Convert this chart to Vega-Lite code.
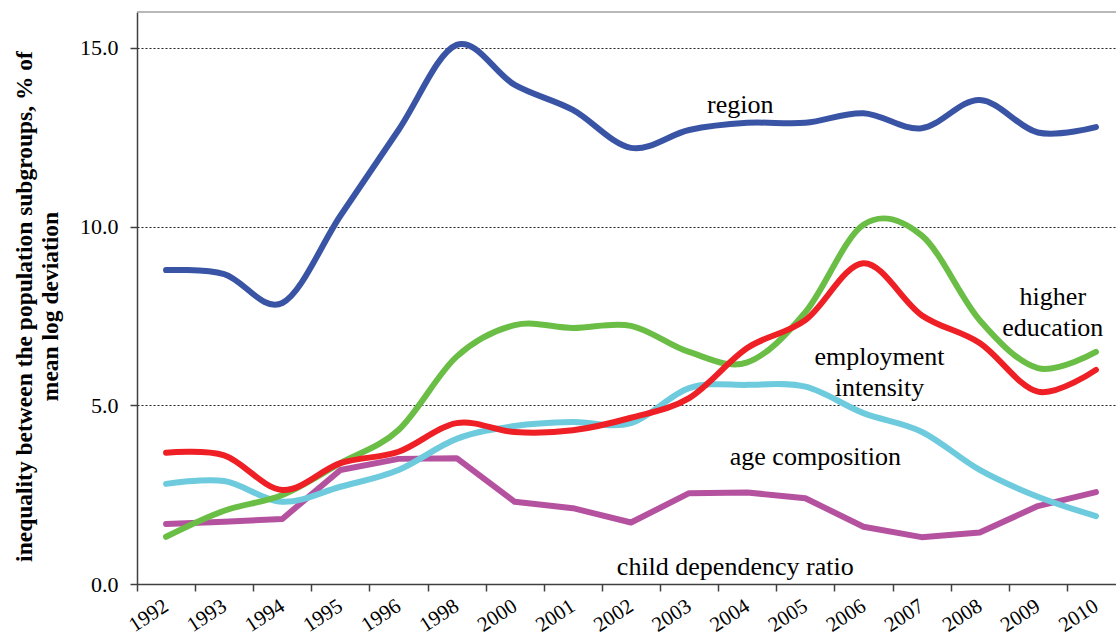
{
  "$schema": "https://vega.github.io/schema/vega-lite/v6.json",
  "width": 979,
  "height": 572,
  "autosize": {"type": "none"},
  "padding": {"left": 137, "top": 12, "right": 0, "bottom": 52},
  "background": "white",
  "config": {"view": {"stroke": null}, "font": "Liberation Serif, Times New Roman, serif"},
  "datasets": {
    "series": [
      {"year": "1992", "series": "child dependency ratio", "value": 1.68},
      {"year": "1993", "series": "child dependency ratio", "value": 1.74},
      {"year": "1994", "series": "child dependency ratio", "value": 1.82},
      {"year": "1995", "series": "child dependency ratio", "value": 3.19},
      {"year": "1996", "series": "child dependency ratio", "value": 3.5},
      {"year": "1998", "series": "child dependency ratio", "value": 3.52},
      {"year": "2000", "series": "child dependency ratio", "value": 2.3},
      {"year": "2001", "series": "child dependency ratio", "value": 2.12},
      {"year": "2002", "series": "child dependency ratio", "value": 1.72},
      {"year": "2003", "series": "child dependency ratio", "value": 2.54},
      {"year": "2004", "series": "child dependency ratio", "value": 2.56},
      {"year": "2005", "series": "child dependency ratio", "value": 2.4},
      {"year": "2006", "series": "child dependency ratio", "value": 1.6},
      {"year": "2007", "series": "child dependency ratio", "value": 1.31},
      {"year": "2008", "series": "child dependency ratio", "value": 1.44},
      {"year": "2009", "series": "child dependency ratio", "value": 2.18},
      {"year": "2010", "series": "child dependency ratio", "value": 2.57},

      {"year": "1992", "series": "region", "value": 8.78},
      {"year": "1993", "series": "region", "value": 8.67},
      {"year": "1994", "series": "region", "value": 7.86},
      {"year": "1995", "series": "region", "value": 10.3},
      {"year": "1996", "series": "region", "value": 12.7},
      {"year": "1998", "series": "region", "value": 15.08},
      {"year": "2000", "series": "region", "value": 13.96},
      {"year": "2001", "series": "region", "value": 13.26},
      {"year": "2002", "series": "region", "value": 12.2},
      {"year": "2003", "series": "region", "value": 12.7},
      {"year": "2004", "series": "region", "value": 12.9},
      {"year": "2005", "series": "region", "value": 12.9},
      {"year": "2006", "series": "region", "value": 13.17},
      {"year": "2007", "series": "region", "value": 12.75},
      {"year": "2008", "series": "region", "value": 13.54},
      {"year": "2009", "series": "region", "value": 12.63},
      {"year": "2010", "series": "region", "value": 12.78},

      {"year": "1992", "series": "age composition", "value": 2.8},
      {"year": "1993", "series": "age composition", "value": 2.88},
      {"year": "1994", "series": "age composition", "value": 2.3},
      {"year": "1995", "series": "age composition", "value": 2.72},
      {"year": "1996", "series": "age composition", "value": 3.19},
      {"year": "1998", "series": "age composition", "value": 4.06},
      {"year": "2000", "series": "age composition", "value": 4.42},
      {"year": "2001", "series": "age composition", "value": 4.53},
      {"year": "2002", "series": "age composition", "value": 4.5},
      {"year": "2003", "series": "age composition", "value": 5.48},
      {"year": "2004", "series": "age composition", "value": 5.57},
      {"year": "2005", "series": "age composition", "value": 5.52},
      {"year": "2006", "series": "age composition", "value": 4.78},
      {"year": "2007", "series": "age composition", "value": 4.26},
      {"year": "2008", "series": "age composition", "value": 3.19},
      {"year": "2009", "series": "age composition", "value": 2.44},
      {"year": "2010", "series": "age composition", "value": 1.9},

      {"year": "1992", "series": "higher education", "value": 1.32},
      {"year": "1993", "series": "higher education", "value": 2.05},
      {"year": "1994", "series": "higher education", "value": 2.49},
      {"year": "1995", "series": "higher education", "value": 3.38},
      {"year": "1996", "series": "higher education", "value": 4.31},
      {"year": "1998", "series": "higher education", "value": 6.36},
      {"year": "2000", "series": "higher education", "value": 7.24},
      {"year": "2001", "series": "higher education", "value": 7.16},
      {"year": "2002", "series": "higher education", "value": 7.22},
      {"year": "2003", "series": "higher education", "value": 6.49},
      {"year": "2004", "series": "higher education", "value": 6.2},
      {"year": "2005", "series": "higher education", "value": 7.6},
      {"year": "2006", "series": "higher education", "value": 10.05},
      {"year": "2007", "series": "higher education", "value": 9.75},
      {"year": "2008", "series": "higher education", "value": 7.38},
      {"year": "2009", "series": "higher education", "value": 6.04},
      {"year": "2010", "series": "higher education", "value": 6.49},

      {"year": "1992", "series": "employment intensity", "value": 3.67},
      {"year": "1993", "series": "employment intensity", "value": 3.6},
      {"year": "1994", "series": "employment intensity", "value": 2.63},
      {"year": "1995", "series": "employment intensity", "value": 3.38},
      {"year": "1996", "series": "employment intensity", "value": 3.7},
      {"year": "1998", "series": "employment intensity", "value": 4.5},
      {"year": "2000", "series": "employment intensity", "value": 4.25},
      {"year": "2001", "series": "employment intensity", "value": 4.3},
      {"year": "2002", "series": "employment intensity", "value": 4.65},
      {"year": "2003", "series": "employment intensity", "value": 5.2},
      {"year": "2004", "series": "employment intensity", "value": 6.6},
      {"year": "2005", "series": "employment intensity", "value": 7.38},
      {"year": "2006", "series": "employment intensity", "value": 8.97},
      {"year": "2007", "series": "employment intensity", "value": 7.52},
      {"year": "2008", "series": "employment intensity", "value": 6.74},
      {"year": "2009", "series": "employment intensity", "value": 5.38},
      {"year": "2010", "series": "employment intensity", "value": 5.99}
    ]
  },
  "layer": [
    {
      "data": {"name": "series"},
      "transform": [{"filter": {"field": "series", "equal": "child dependency ratio"}}],
      "mark": {"type": "line", "strokeWidth": 6, "strokeCap": "round", "strokeJoin": "round"},
      "encoding": {
        "x": {
          "field": "year", "type": "ordinal", "bandPosition": 0.5,
          "scale": {"type": "band", "domain": ["1992","1993","1994","1995","1996","1998","2000","2001","2002","2003","2004","2005","2006","2007","2008","2009","2010"], "range": [0, 988], "paddingInner": 0, "paddingOuter": 0},
          "axis": {
            "title": null, "labelAngle": -33, "labelAlign": "right", "labelBaseline": "middle",
            "labelFontSize": 21, "labelColor": "#000", "labelFont": "Liberation Serif, Times New Roman, serif", "labelPadding": 13,
            "labelOverlap": false, "labelBound": false, "labelFlush": false,
            "tickBand": "extent", "tickSize": 7, "tickColor": "#404040", "tickWidth": 1.5,
            "domainColor": "#404040", "domainWidth": 1.5, "grid": false
          }
        },
        "y": {
          "field": "value", "type": "quantitative",
          "scale": {"domain": [0, 16], "nice": false},
          "axis": {
            "title": ["inequality between the population subgroups, % of", "mean log deviation"],
            "values": [0, 5, 10, 15], "format": ".1f",
            "labelFontSize": 22, "labelColor": "#000", "labelFont": "Liberation Serif, Times New Roman, serif", "labelPadding": 12,
            "tickSize": 7, "tickColor": "#404040", "tickWidth": 1.5,
            "domainColor": "#404040", "domainWidth": 1.5,
            "grid": true, "gridDash": [2, 2], "gridColor": "#222", "gridWidth": 1,
            "titleFont": "Liberation Serif, Times New Roman, serif", "titleFontSize": 23.5, "titleFontWeight": "bold", "titleColor": "#000",
            "titleAngle": -90, "titleAlign": "center", "titleBaseline": "alphabetic",
            "titleX": -106, "titleY": 294, "titleLineHeight": 26
          }
        },
        "color": {"field": "series", "type": "nominal", "legend": null,
          "scale": {"domain": ["region", "higher education", "employment intensity", "age composition", "child dependency ratio"],
                    "range": ["#3a54a5", "#6bbe45", "#ee1f25", "#6dcbdd", "#b5529f"]}}
      }
    },
    {
      "data": {"values": [{"value": 16}]},
      "mark": {"type": "rule", "color": "#a0a0a0", "strokeWidth": 1.5},
      "encoding": {
        "y": {"field": "value", "type": "quantitative"}
      }
    },
    {
      "data": {"name": "series"},
      "transform": [{"filter": {"field": "series", "oneOf": ["region", "age composition", "higher education", "employment intensity"]}}],
      "mark": {"type": "line", "strokeWidth": 6, "interpolate": "cardinal", "strokeCap": "round"},
      "encoding": {
        "x": {"field": "year", "type": "ordinal", "bandPosition": 0.5},
        "y": {"field": "value", "type": "quantitative"},
        "color": {"field": "series", "type": "nominal", "legend": null},
        "order": {"field": "series"}
      }
    },
    {
      "data": {"values": [{"label": "region", "year": "2004", "value": 13.4}]},
      "mark": {"type": "text", "font": "Liberation Serif, Times New Roman, serif", "fontSize": 26, "color": "#000", "align": "center", "baseline": "middle", "dx": -7},
      "encoding": {
        "x": {"field": "year", "type": "ordinal", "bandPosition": 0.5},
        "y": {"field": "value", "type": "quantitative"},
        "text": {"field": "label"}
      }
    },
    {
      "data": {"values": [{"label": "higher\neducation", "year": "2009", "value": 8.03}]},
      "mark": {"type": "text", "font": "Liberation Serif, Times New Roman, serif", "fontSize": 26, "color": "#000", "align": "center", "baseline": "middle", "dx": 15, "lineBreak": "\n", "lineHeight": 31},
      "encoding": {
        "x": {"field": "year", "type": "ordinal", "bandPosition": 0.5},
        "y": {"field": "value", "type": "quantitative"},
        "text": {"field": "label"}
      }
    },
    {
      "data": {"values": [{"label": "employment\nintensity", "year": "2006", "value": 6.35}]},
      "mark": {"type": "text", "font": "Liberation Serif, Times New Roman, serif", "fontSize": 26, "color": "#000", "align": "center", "baseline": "middle", "dx": 16, "lineBreak": "\n", "lineHeight": 31},
      "encoding": {
        "x": {"field": "year", "type": "ordinal", "bandPosition": 0.5},
        "y": {"field": "value", "type": "quantitative"},
        "text": {"field": "label"}
      }
    },
    {
      "data": {"values": [{"label": "age composition", "year": "2005", "value": 3.55}]},
      "mark": {"type": "text", "font": "Liberation Serif, Times New Roman, serif", "fontSize": 26, "color": "#000", "align": "center", "baseline": "middle", "dx": 10},
      "encoding": {
        "x": {"field": "year", "type": "ordinal", "bandPosition": 0.5},
        "y": {"field": "value", "type": "quantitative"},
        "text": {"field": "label"}
      }
    },
    {
      "data": {"values": [{"label": "child dependency ratio", "year": "2004", "value": 0.48}]},
      "mark": {"type": "text", "font": "Liberation Serif, Times New Roman, serif", "fontSize": 26, "color": "#000", "align": "center", "baseline": "middle", "dx": -12},
      "encoding": {
        "x": {"field": "year", "type": "ordinal", "bandPosition": 0.5},
        "y": {"field": "value", "type": "quantitative"},
        "text": {"field": "label"}
      }
    }
  ]
}
